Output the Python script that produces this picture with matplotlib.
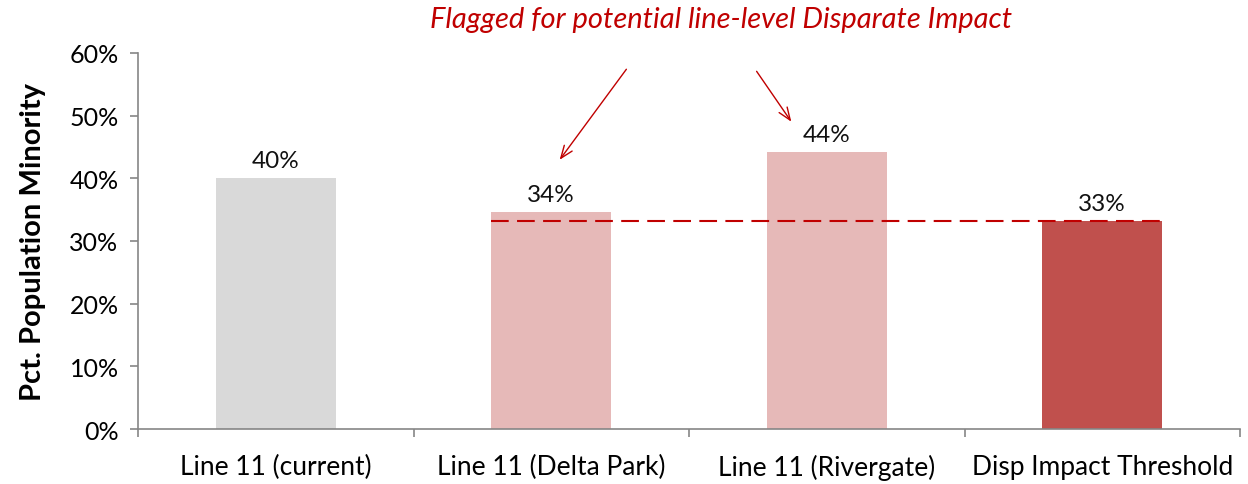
import matplotlib.pyplot as plt
from matplotlib.ticker import FixedLocator, FuncFormatter

# data
categories = ['Line 11 (current)', 'Line 11 (Delta Park)', 'Line 11 (Rivergate)', 'Disp Impact Threshold']
values = [0.400, 0.347, 0.442, 0.332]
value_labels = ['40%', '34%', '44%', '33%']
threshold = 0.332
bar_colors = ['#D9D9D9', '#E6B9B8', '#E6B9B8', '#C0504D']
note = 'Flagged for potential line-level Disparate Impact'

plt.rcParams['font.family'] = ['Lato', 'DejaVu Sans']

fig = plt.figure(figsize=(12.48, 4.85), dpi=100)
ax = fig.add_axes([0.1106, 0.1134, 0.8830, 0.7753])

x = list(range(len(categories)))
w = 0.435
ax.bar(x, values, width=w, color=bar_colors, zorder=2)

for xi, v, lab in zip(x, values, value_labels):
    ax.annotate(lab, (xi, v), xytext=(0, 5), textcoords='offset points',
                ha='center', va='bottom', fontsize=17.5, color='#111111')

# threshold line from flagged bars to threshold bar
ax.plot([x[1] - w / 2, x[3] + w / 2], [threshold, threshold], color='#C00000',
        lw=1.5, dashes=(8.5, 4), zorder=3)

ax.set_xlim(-0.5, len(categories) - 0.5)
ax.set_ylim(0, 0.6)
ax.set_yticks([i / 10 for i in range(7)])
ax.yaxis.set_major_formatter(FuncFormatter(lambda v, p: f'{v * 100:.0f}%'))
ax.set_xticks(x)
ax.set_xticklabels(categories, fontsize=19)
ax.xaxis.set_minor_locator(FixedLocator([i - 0.5 for i in range(len(categories) + 1)]))
ax.tick_params(axis='x', which='major', length=0, pad=18)
ax.tick_params(axis='x', which='minor', length=6, color='#868686', width=1.2)
ax.tick_params(axis='y', length=6, color='#868686', width=1.2, labelsize=18, pad=8)
ax.set_ylabel('Pct. Population Minority', fontsize=21, fontweight='bold', labelpad=17)

for s in ['top', 'right']:
    ax.spines[s].set_visible(False)
for s in ['left', 'bottom']:
    ax.spines[s].set_color('#868686')
    ax.spines[s].set_linewidth(1.2)

ax.text(1.616, 0.654, note, ha='center', va='center', fontsize=21, style='italic',
        color='#C00000', clip_on=False)

arrow = dict(arrowstyle='->,head_length=0.9,head_width=0.35', color='#C00000', lw=1)
ax.annotate('', xy=(1.0245, 0.426), xytext=(1.2786, 0.5776), arrowprops=arrow, annotation_clip=False)
ax.annotate('', xy=(1.877, 0.4867), xytext=(1.7396, 0.5744), arrowprops=arrow, annotation_clip=False)

fig.savefig('out.png', dpi=100)
